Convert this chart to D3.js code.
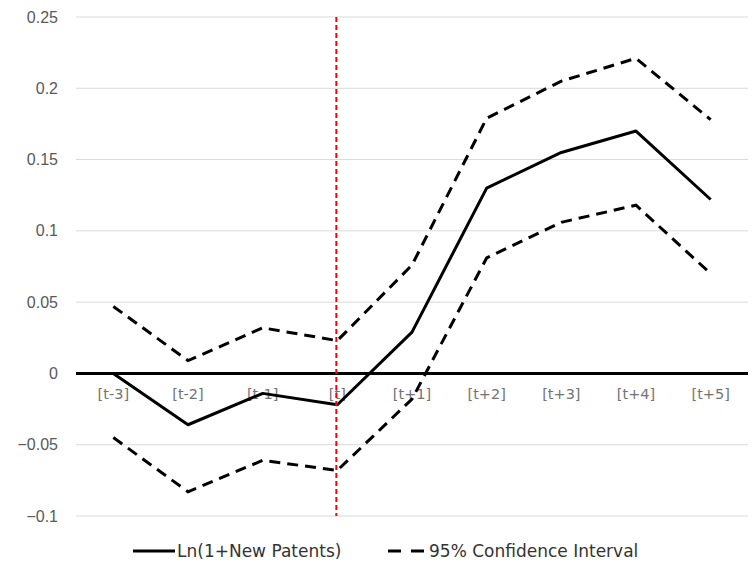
<!DOCTYPE html>
<html><head><meta charset="utf-8">
<script src="https://cdn.jsdelivr.net/npm/d3@7"></script>
<style>body{margin:0;background:#fff}</style>
</head><body><svg id="c" width="756" height="568"></svg>
<script>
const categories = ["[t-3]","[t-2]","[t-1]","[t]","[t+1]","[t+2]","[t+3]","[t+4]","[t+5]"];
const estimate = [0, -0.036, -0.014, -0.022, 0.029, 0.130, 0.155, 0.170, 0.122];
const upperCI = [0.047, 0.009, 0.032, 0.023, 0.076, 0.179, 0.205, 0.221, 0.178];
const lowerCI = [-0.045, -0.083, -0.061, -0.068, -0.018, 0.081, 0.106, 0.118, 0.070];
const yTicks = [-0.1, -0.05, 0, 0.05, 0.1, 0.15, 0.2, 0.25];
const eventCategory = "[t]";
const legendLabels = ["Ln(1+New Patents)", "95% Confidence Interval"];

const svg = d3.select("#c");
const pL = 76, pR = 748, pT = 17, pB = 516;
const x = d3.scaleBand().domain(categories).range([pL, pR]);
const y = d3.scaleLinear().domain([-0.1, 0.25]).range([pB, pT]);
const cx = c => x(c) + x.bandwidth() / 2;

// grid
svg.append("g").selectAll("line").data(yTicks.filter(t => t !== 0)).join("line")
  .attr("x1", pL).attr("x2", pR)
  .attr("y1", d => y(d)).attr("y2", d => y(d))
  .attr("stroke", "#d9d9d9").attr("stroke-width", 1);

// y labels
svg.append("g").selectAll("text").data(yTicks).join("text")
  .attr("x", 58).attr("y", d => y(d)).attr("dy", "0.35em")
  .attr("text-anchor", "end")
  .attr("font-family", "Liberation Sans, Arial, sans-serif").attr("font-size", 16)
  .attr("fill", "#595959")
  .text(d => d3.format("")(d));

// zero line
svg.append("line").attr("x1", pL).attr("x2", pR)
  .attr("y1", y(0)).attr("y2", y(0)).attr("stroke", "#000").attr("stroke-width", 3);

// x labels
svg.append("g").selectAll("text").data(categories).join("text")
  .attr("x", d => cx(d)).attr("y", y(0) + 20).attr("dy", "0.35em")
  .attr("text-anchor", "middle")
  .attr("font-family", "DejaVu Sans, sans-serif").attr("font-size", 14.5)
  .attr("fill", "#737373")
  .text(d => d);

const line = d3.line().x((d, i) => cx(categories[i])).y(d => y(d));

svg.append("path").datum(upperCI).attr("d", line).attr("fill", "none")
  .attr("stroke", "#000").attr("stroke-width", 3).attr("stroke-dasharray", "11,7");
svg.append("path").datum(lowerCI).attr("d", line).attr("fill", "none")
  .attr("stroke", "#000").attr("stroke-width", 3).attr("stroke-dasharray", "11,7");
svg.append("path").datum(estimate).attr("d", line).attr("fill", "none")
  .attr("stroke", "#000").attr("stroke-width", 3).attr("stroke-linejoin", "round");

// red event line
svg.append("line").attr("x1", cx(eventCategory) - 1).attr("x2", cx(eventCategory) - 1)
  .attr("y1", pT).attr("y2", pB)
  .attr("stroke", "#ff0000").attr("stroke-width", 2).attr("stroke-dasharray", "5,3");

// legend
const lg = svg.append("g").attr("font-family", "DejaVu Sans, sans-serif")
  .attr("font-size", 17).attr("fill", "#333333");
lg.append("line").attr("x1", 133).attr("x2", 175).attr("y1", 551).attr("y2", 551)
  .attr("stroke", "#000").attr("stroke-width", 3);
lg.append("text").attr("x", 177).attr("y", 551).attr("dy", "0.35em").text(legendLabels[0]);
lg.append("line").attr("x1", 388).attr("x2", 425).attr("y1", 551).attr("y2", 551)
  .attr("stroke", "#000").attr("stroke-width", 3).attr("stroke-dasharray", "13,10");
lg.append("text").attr("x", 429).attr("y", 551).attr("dy", "0.35em").text(legendLabels[1]);
</script></body></html>
